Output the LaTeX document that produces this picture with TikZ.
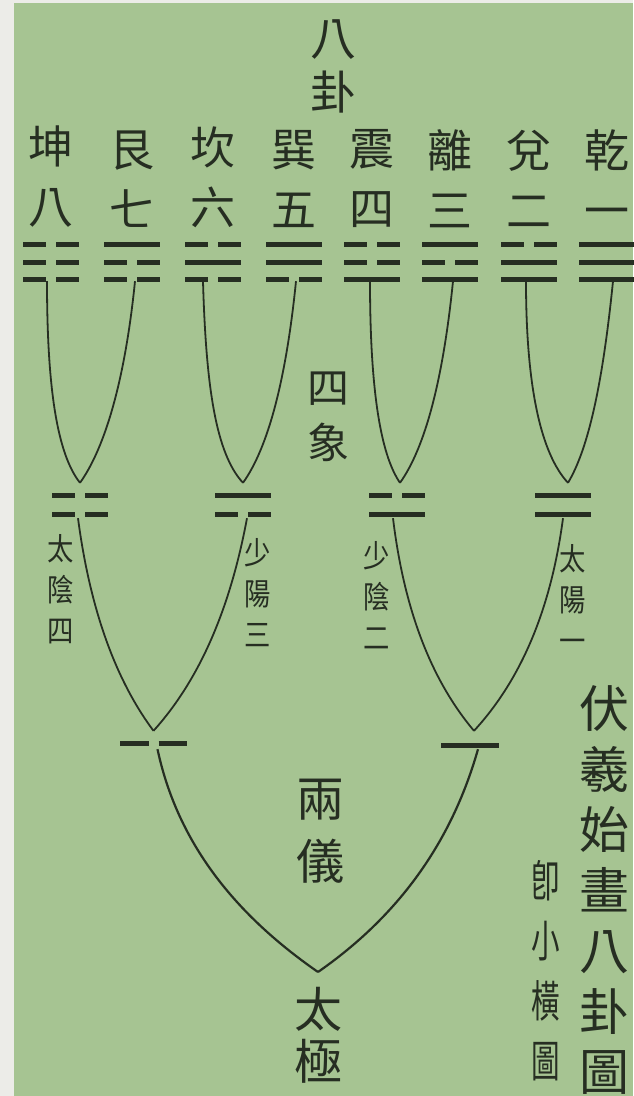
\documentclass[tikz,border=0pt]{standalone}
\usepackage{fontspec}
\newfontfamily\cjk{Noto Sans CJK TC}
\usetikzlibrary{positioning}
\definecolor{paper}{RGB}{166,196,146}
\definecolor{rim}{RGB}{236,236,232}
\definecolor{ink}{RGB}{38,46,34}
% one yao line: [half width]{x}{y}{1 = yang, 0 = yin}
\newcommand{\yao}[4][28]{%
  \ifnum#4=1
    \draw[bar] (#2-#1,#3) -- (#2+#1,#3);
  \else
    \draw[bar] (#2-#1,#3) -- (#2-5,#3) (#2+5,#3) -- (#2+#1,#3);
  \fi}
\tikzset{%
  bar/.style = {ink, line width=5pt},
  link/.style = {ink, line width=1.8pt},
  gua/.style = {rectangle, minimum width=56pt, minimum height=38pt, inner sep=0pt},
  xiang/.style = {rectangle, minimum width=56pt, minimum height=35pt, inner sep=0pt},
  yi/.style = {rectangle, minimum width=60pt, minimum height=18pt, inner sep=0pt},
  guaname/.style = {ink, align=center, inner sep=0pt,
        font=\cjk\fontsize{45}{60}\selectfont},
  big/.style = {ink, align=center, inner sep=0pt,
        font=\cjk\fontsize{48}{60}\selectfont},
  note/.style = {ink, align=center, inner sep=0pt, xscale=0.85,
        font=\cjk\fontsize{31}{41}\selectfont}
}

\begin{document}
\begin{tikzpicture}[x=1pt, y=-1pt]
   \useasboundingbox (0,0) rectangle (633,1096);
   \fill[rim] (0,0) rectangle (633,1096);
   \fill[paper] (14,3) rectangle (633,1096);

   % eight gua
   \foreach \x/\n/\ya/\yb/\yc/\t in {51/kun/0/0/0/坤\\八, 132/gen/1/0/0/艮\\七,
       213/kan/0/1/0/坎\\六, 294/xun/1/1/0/巽\\五, 372/zhen/0/0/1/震\\四,
       450/li/1/0/1/離\\三, 529/dui/0/1/1/兌\\二, 607/qian/1/1/1/乾\\一}{
     \node[gua] (\n) at (\x,262) {};
     \node[guaname] (\n-t) [above=15pt of \n] {\t};
     \yao{\x}{244}{\ya} \yao{\x}{262}{\yb} \yao{\x}{279}{\yc}
   }

   % four xiang
   \foreach \x/\n/\ya/\yb in {80/taiyin/0/0, 243/shaoyang/1/0,
       397/shaoyin/0/1, 563/taiyang/1/1}{
     \node[xiang] (\n) at (\x,500.5) {};
     \yao{\x}{495}{\ya} \yao{\x}{514}{\yb}
   }

   % two yi
   \node[yi] (yin) at (153.5,740) {};
   \node[yi] (yang) at (470,740) {};
   \yao[33.5]{153.5}{743}{0}
   \yao[29]{470}{745}{1}

   \node[big, font=\cjk\fontsize{46}{54}\selectfont] (bagua) at (333,66) {八\\卦};
   \node[big, font=\cjk\fontsize{42}{55}\selectfont] (sixiang) at (328,417) {四\\象};
   \node[big, font=\cjk\fontsize{48}{63}\selectfont] (liangyi) at (320,831) {兩\\儀};
   \node[big, font=\cjk\fontsize{48}{52}\selectfont, anchor=north,
         inner ysep=15pt] (taiji) at (318,972) {太\\極};

   \node[note] (taiyin-t) at (61,589) {太\\陰\\四};
   \node[note] (shaoyang-t) at (258,593) {少\\陽\\三};
   \node[note] (shaoyin-t) at (377,595) {少\\陰\\二};
   \node[note] (taiyang-t) at (573,598) {太\\陽\\一};

   \node[big, font=\cjk\fontsize{50}{60.5}\selectfont] (title) at (604,890)
         {伏\\羲\\始\\畫\\八\\卦\\圖};
   \node[big, xscale=0.65, font=\cjk\fontsize{44}{60}\selectfont] (subtitle)
         at (546,971) {卽\\小\\橫\\圖};

   \draw[link] ([xshift=-4pt]kun.south) .. controls +(0,106) and +(-23,-29) .. (taiyin.north);
   \draw[link] ([xshift=3pt]gen.south) .. controls +(-10,99) and +(25,-35) .. (taiyin.north);
   \draw[link] ([xshift=-10pt]kan.south) .. controls +(3,106) and +(-27,-29) .. (shaoyang.north);
   \draw[link] ([xshift=2pt]xun.south) .. controls +(-10,99) and +(25,-35) .. (shaoyang.north);
   \draw[link] ([xshift=-2pt]zhen.south) .. controls +(0,106) and +(-20,-29) .. ([xshift=3pt]shaoyin.north);
   \draw[link] ([xshift=3pt]li.south) .. controls +(-10,99) and +(25,-35) .. ([xshift=3pt]shaoyin.north);
   \draw[link] ([xshift=-3pt]dui.south) .. controls +(0,106) and +(-27,-29) .. ([xshift=5pt]taiyang.north);
   \draw[link] ([xshift=6pt]qian.south) .. controls +(-10,99) and +(21,-35) .. ([xshift=5pt]taiyang.north);

   \draw[link] ([xshift=-2pt]taiyin.south) .. controls +(12,91) and +(-38,-51) .. (yin.north);
   \draw[link] ([xshift=4pt]shaoyang.south) .. controls +(-17,91) and +(46,-51) .. (yin.north);
   \draw[link] ([xshift=-4pt]shaoyin.south) .. controls +(11,91) and +(-43,-51) .. ([xshift=4pt]yang.north);
   \draw[link] (taiyang.south) .. controls +(-12,91) and +(47,-51) .. ([xshift=4pt]yang.north);

   \draw[link, line width=2.2pt] ([xshift=4pt]yin.south) .. controls +(19,89) and +(-88,-61) .. (taiji.north);
   \draw[link, line width=2.2pt] ([xshift=8pt]yang.south) .. controls +(-27,95) and +(79,-55) .. (taiji.north);
\end{tikzpicture}
\end{document}
